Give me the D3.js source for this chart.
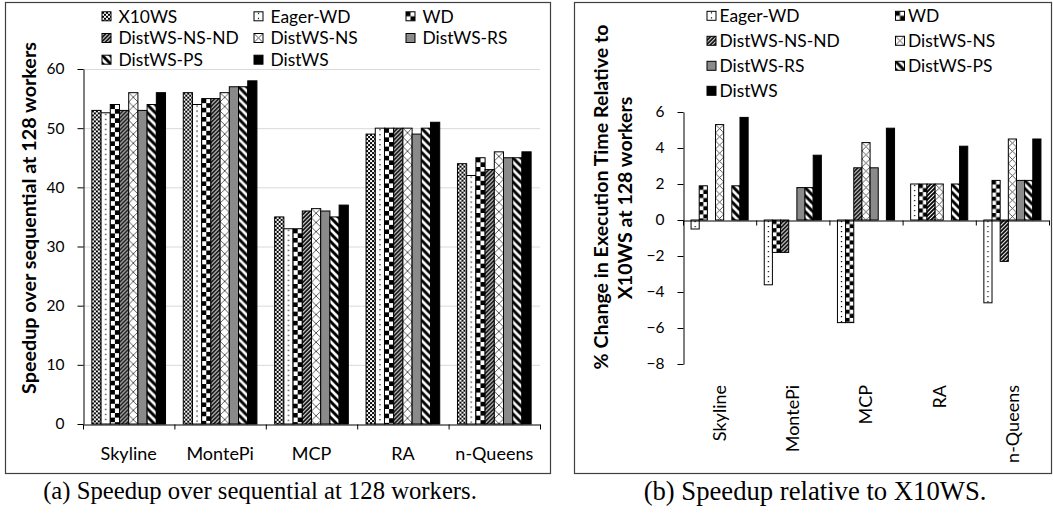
<!DOCTYPE html>
<html><head><meta charset="utf-8">
<script src="https://cdn.jsdelivr.net/npm/d3@7"></script>
<style>
body{margin:0;background:#fff;}
svg{display:block;}
.sans{font-family:Lato,"Open Sans",sans-serif;}
.serif{font-family:"Liberation Serif","DejaVu Serif",serif;}
</style></head><body>
<svg id="fig" width="1053" height="516"></svg>
<script>
// Benchmarks
const categories = ["Skyline", "MontePi", "MCP", "RA", "n-Queens"];

// (a) speedup over sequential at 128 workers
const seriesA = ["X10WS", "Eager-WD", "WD", "DistWS-NS-ND", "DistWS-NS", "DistWS-RS", "DistWS-PS", "DistWS"];
const spX10WS   = [53, 56, 35, 49, 44];
const spEagerWD = [52.6, 54, 33, 50, 42];
const spWD      = [54, 55, 33, 50, 45];
const spNSND    = [53, 55, 36, 50, 43];
const spNS      = [56, 56, 36.4, 50, 46];
const spRS      = [53, 57, 36, 49, 45];
const spPS      = [54, 57, 35, 50, 45];
const spDistWS  = [56, 58, 37, 51, 46];
const ticksA    = [0, 10, 20, 30, 40, 50, 60];

// (b) % change in execution time relative to X10WS
const seriesB = ["Eager-WD", "WD", "DistWS-NS-ND", "DistWS-NS", "DistWS-RS", "DistWS-PS", "DistWS"];
const chEagerWD = [-0.5, -3.6, -5.7, 2.0, -4.6];
const chWD      = [1.9, -1.8, -5.7, 2.0, 2.2];
const chNSND    = [0, -1.8, 2.9, 2.0, -2.3];
const chNS      = [5.3, 0, 4.3, 2.0, 4.5];
const chRS      = [0, 1.8, 2.9, 0, 2.2];
const chPS      = [1.9, 1.8, 0, 2.0, 2.2];
const chDistWS  = [5.7, 3.6, 5.1, 4.1, 4.5];
const ticksB    = [-8, -6, -4, -2, 0, 2, 4, 6];

const valuesA = [spX10WS, spEagerWD, spWD, spNSND, spNS, spRS, spPS, spDistWS];
const valuesB = [chEagerWD, chWD, chNSND, chNS, chRS, chPS, chDistWS];

// fill style for each series
const fillKind = {
  "X10WS": "smallChecker", "Eager-WD": "dots", "WD": "bigChecker",
  "DistWS-NS-ND": "fwdDiag", "DistWS-NS": "cross", "DistWS-RS": "gray",
  "DistWS-PS": "backDiag", "DistWS": "black"
};

const svg = d3.select("#fig");
const defs = svg.append("defs");
let patId = 0;

// Builds a hatch pattern anchored at (x, y) so every bar starts on the same phase
function fillFor(kind, x, y, w) {
  if (kind === "gray") return "#8a8a8a";
  if (kind === "black") return "#000";
  const id = "p" + (patId++);
  let tw, th;
  if (kind === "smallChecker") { tw = 4; th = 4; }
  else if (kind === "dots") { tw = w; th = 5; }
  else if (kind === "bigChecker") { tw = w; th = w; }
  else if (kind === "fwdDiag") { tw = 4; th = 4; }
  else if (kind === "cross") { tw = w; th = w; }
  else if (kind === "backDiag") { tw = 8; th = 8; }
  const p = defs.append("pattern").attr("id", id)
    .attr("patternUnits", "userSpaceOnUse")
    .attr("x", x).attr("y", y).attr("width", tw).attr("height", th);
  p.append("rect").attr("width", tw).attr("height", th).attr("fill", "#fff");
  if (kind === "smallChecker") {
    p.append("rect").attr("x", 0).attr("y", 0).attr("width", 2).attr("height", 2).attr("fill", "#000");
    p.append("rect").attr("x", 2).attr("y", 2).attr("width", 2).attr("height", 2).attr("fill", "#000");
  } else if (kind === "dots") {
    p.append("rect").attr("x", tw / 2 - 0.6).attr("y", 1).attr("width", 1.2).attr("height", 1.2).attr("fill", "#000");
  } else if (kind === "bigChecker") {
    const s = tw / 2;
    p.append("rect").attr("x", 0).attr("y", 0).attr("width", s).attr("height", s).attr("fill", "#000");
    p.append("rect").attr("x", s).attr("y", s).attr("width", s).attr("height", s).attr("fill", "#000");
  } else if (kind === "fwdDiag") {
    p.append("path").attr("d", "M0,4 L4,0 M-1,1 L1,-1 M3,5 L5,3")
      .attr("stroke", "#000").attr("stroke-width", 1.8);
  } else if (kind === "cross") {
    p.append("path").attr("d", `M0,0 L${tw},${th} M${tw},0 L0,${th}`)
      .attr("stroke", "#333").attr("stroke-width", 0.8);
  } else if (kind === "backDiag") {
    p.append("path").attr("d", "M0,0 L8,8 M6,-2 L10,2 M-2,6 L2,10")
      .attr("stroke", "#000").attr("stroke-width", 3);
  }
  return `url(#${id})`;
}

// scale a text's font size so its advance equals the given length
function fitLength(sel, len) {
  const fs = parseFloat(sel.attr("font-size"));
  sel.attr("font-size", fs * len / sel.node().getComputedTextLength());
  return parseFloat(sel.attr("font-size"));
}

// panel frames
svg.append("rect").attr("x", 5.5).attr("y", 2.5).attr("width", 545).attr("height", 471)
  .attr("fill", "none").attr("stroke", "#404040").attr("stroke-width", 1.2);
svg.append("rect").attr("x", 574.5).attr("y", 2.5).attr("width", 477).attr("height", 471)
  .attr("fill", "none").attr("stroke", "#404040").attr("stroke-width", 1.2);

function legend(g, series, cols, x0, dx, y0, dy, gap) {
  series.forEach((s, i) => {
    const c = i % cols, r = Math.floor(i / cols);
    const sx = x0 + c * dx, cy = y0 + r * dy;
    g.append("rect").attr("x", sx + 0.5).attr("y", cy - 4.5).attr("width", 9).attr("height", 9)
      .attr("fill", fillFor(fillKind[s], sx + 0.5, cy - 4.5, 9))
      .attr("stroke", "#000").attr("stroke-width", 1);
    g.append("text").attr("class", "sans").attr("x", sx + 9 + gap).attr("y", cy)
      .attr("dy", "0.36em").attr("font-size", 17.4).attr("fill", "#000").text(s);
  });
}

// ---------- (a) ----------
{
  const g = svg.append("g");
  const x0 = d3.scaleBand().domain(categories).range([83, 540]).paddingInner(0.194).paddingOuter(0.097);
  const x1 = d3.scaleBand().domain(seriesA).range([0, x0.bandwidth()]);
  const xb = d3.scaleLinear().domain([0, categories.length]).range([83, 540]);
  const y = d3.scaleLinear().domain([0, 60]).range([424, 69]);

  g.append("g").selectAll("line").data(ticksA.filter(t => t > 0)).join("line")
    .attr("x1", 83).attr("x2", 540).attr("y1", d => y(d) + 0.5).attr("y2", d => y(d) + 0.5)
    .attr("stroke", "#d9d9d9").attr("stroke-width", 1);

  seriesA.forEach((s, si) => {
    valuesA[si].forEach((v, ci) => {
      const bx = x0(categories[ci]) + x1(s), bw = x1.bandwidth();
      const by = y(v), bh = y(0) - y(v);
      g.append("rect").attr("x", bx).attr("y", by).attr("width", bw).attr("height", bh)
        .attr("fill", fillFor(fillKind[s], bx, by, bw))
        .attr("stroke", "#000").attr("stroke-width", 1);
    });
  });

  const ya = g.append("g").attr("transform", "translate(83.5,0)")
    .call(d3.axisLeft(y).tickValues(ticksA).tickSize(6).tickPadding(13).tickSizeOuter(0));
  ya.select(".domain").attr("stroke", "#000");
  ya.selectAll(".tick line").attr("stroke", "#000");
  ya.selectAll("text").attr("class", "sans").attr("font-size", 15.5).attr("fill", "#000");

  const xa = g.append("g").attr("transform", "translate(0,424.5)")
    .call(d3.axisBottom(xb).tickValues(d3.range(categories.length + 1)).tickFormat("").tickSize(5).tickSizeOuter(0));
  xa.select(".domain").attr("stroke", "#000");
  xa.selectAll(".tick line").attr("stroke", "#000");

  g.append("g").selectAll("text").data(categories).join("text")
    .attr("class", "sans").attr("x", d => x0(d) + x0.bandwidth() / 2).attr("y", 460)
    .attr("text-anchor", "middle").attr("font-size", 18).text(d => d);

  const t = g.append("text").attr("class", "sans").attr("font-weight", "bold").attr("font-size", 16)
    .attr("text-anchor", "middle").attr("transform", "translate(36,218) rotate(-90)")
    .text("Speedup over sequential at 128 workers");
  fitLength(t, 352);

  legend(g, seriesA, 3, 101.5, 152, 16.3, 21.7, 8);

  const cap = g.append("text").attr("class", "serif").attr("x", 260).attr("y", 499)
    .attr("text-anchor", "middle").attr("font-size", 18).text("(a) Speedup over sequential at 128 workers.");
  fitLength(cap, 434);
}

// ---------- (b) ----------
{
  const g = svg.append("g");
  const x0 = d3.scaleBand().domain(categories).range([683, 1049]).paddingInner(0.22).paddingOuter(0.11);
  const x1 = d3.scaleBand().domain(seriesB).range([0, x0.bandwidth()]);
  const xb = d3.scaleLinear().domain([0, categories.length]).range([683, 1049]);
  const y = d3.scaleLinear().domain([-8, 6]).range([364, 112]);

  seriesB.forEach((s, si) => {
    valuesB[si].forEach((v, ci) => {
      if (v === 0) return;
      const bx = x0(categories[ci]) + x1(s), bw = x1.bandwidth();
      const by = y(Math.max(0, v)), bh = Math.abs(y(v) - y(0));
      g.append("rect").attr("x", bx).attr("y", by).attr("width", bw).attr("height", bh)
        .attr("fill", fillFor(fillKind[s], bx, by, bw))
        .attr("stroke", "#000").attr("stroke-width", 1);
    });
  });

  const ya = g.append("g").attr("transform", "translate(683.5,0)")
    .call(d3.axisLeft(y).tickValues(ticksB).tickSize(6).tickPadding(13).tickSizeOuter(0));
  ya.select(".domain").attr("stroke", "#000");
  ya.selectAll(".tick line").attr("stroke", "#000");
  ya.selectAll("text").attr("class", "sans").attr("font-size", 15.5).attr("fill", "#000");

  const xa = g.append("g").attr("transform", `translate(0,${y(0) + 0.5})`)
    .call(d3.axisBottom(xb).tickValues(d3.range(categories.length + 1)).tickFormat("").tickSize(5).tickSizeOuter(0));
  xa.select(".domain").attr("stroke", "#000");
  xa.selectAll(".tick line").attr("stroke", "#000");

  g.append("g").selectAll("text").data(categories).join("text")
    .attr("class", "sans").attr("text-anchor", "end").attr("font-size", 18).attr("dy", "0.35em")
    .attr("transform", d => `translate(${x0(d) + x0.bandwidth() / 2},385) rotate(-90)`)
    .text(d => d);

  const t1 = g.append("text").attr("class", "sans").attr("font-weight", "bold").attr("font-size", 16)
    .attr("text-anchor", "middle").attr("transform", "translate(608,197) rotate(-90)")
    .text("% Change in Execution Time Relative to");
  const fs = fitLength(t1, 345);
  g.append("text").attr("class", "sans").attr("font-weight", "bold").attr("font-size", fs)
    .attr("text-anchor", "middle").attr("transform", "translate(632,198) rotate(-90)")
    .text("X10WS at 128 workers");

  legend(g, seriesB, 2, 706.5, 188.5, 15.8, 25, 4);

  const cap = g.append("text").attr("class", "serif").attr("x", 815).attr("y", 500)
    .attr("text-anchor", "middle").attr("font-size", 18).text("(b) Speedup relative to X10WS.");
  fitLength(cap, 343);
}
</script>
</body></html>
